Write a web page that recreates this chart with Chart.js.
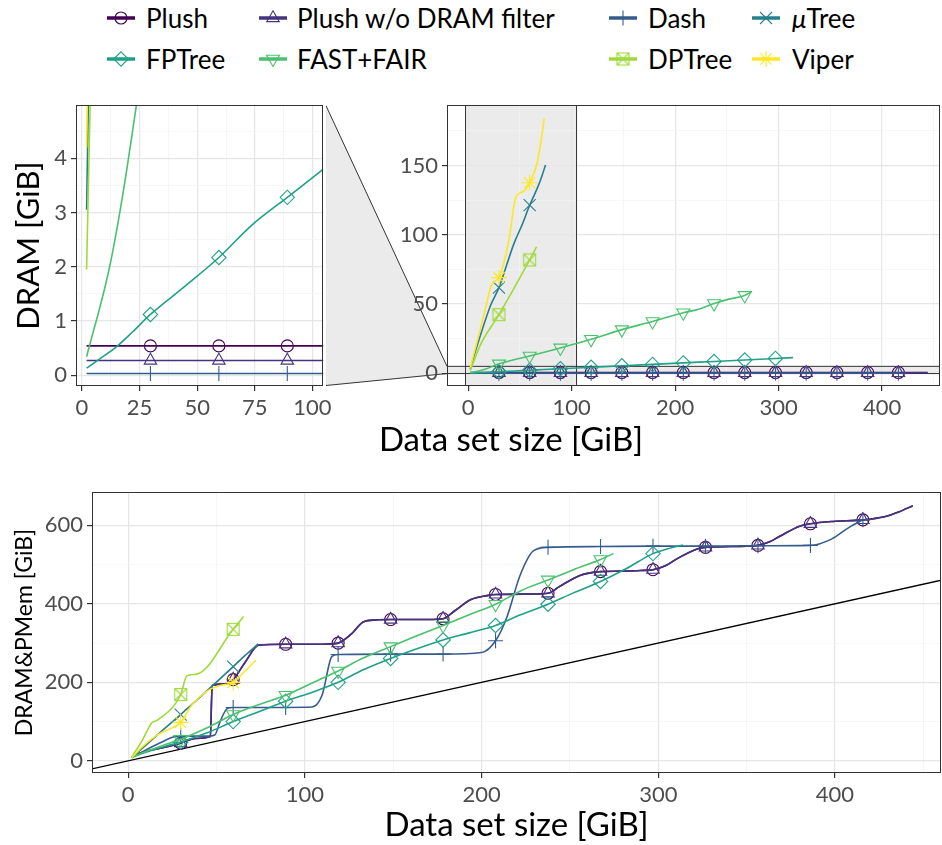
<!DOCTYPE html>
<html lang="en">
<head>
<meta charset="UTF-8">
<title>DRAM and PMem usage</title>
<script src="https://cdn.jsdelivr.net/npm/chart.js@4"></script>
<style>
    body { margin: 0; background: #fff; font-family: Lato, sans-serif; }
    #wrap { position: relative; width: 942px; height: 845px; overflow: hidden; }
    #wrap > canvas { position: absolute; }
    .leg { position: absolute; height: 30px; display: flex; align-items: center; font-size: 26px; color: #000; white-space: nowrap; }
    .leg canvas { position: absolute; }
    #xTitleTop { position: absolute; left: 261px; width: 500px; top: 418px; line-height: 40px; text-align: center; font-size: 33px; }
</style>
</head>
<body>
<div id="wrap">
    <div id="legend"></div>
    <canvas id="zoomChart" style="left:0;top:88px;width:336px;height:340px" width="336" height="340"></canvas>
    <canvas id="fullChart" style="left:326px;top:88px;width:616px;height:340px" width="616" height="340"></canvas>
    <div id="xTitleTop">Data set size [GiB]</div>
    <canvas id="totalChart" style="left:0;top:475px;width:942px;height:370px" width="942" height="370"></canvas>
</div>
<script>
// Series: names, colours, markers
const seriesNames = ['Plush', 'Plush w/o DRAM filter', 'Dash', 'μTree', 'FPTree', 'FAST+FAIR', 'DPTree', 'Viper'];
const seriesColors = ['#440154', '#46337E', '#365C8D', '#277F8E', '#1FA187', '#4AC16D', '#9FDA3A', '#FDE725'];

// data set sizes where the markers sit [GiB]
const markerX = [29.7, 59.4, 89.1, 118.8, 148.5, 178.2, 207.9, 237.6, 267.3, 297, 326.7, 356.4, 386.1, 415.8];

// ---- DRAM usage [GiB] (top panels) ----
const plushDramX = [2, 29.7, 59.4, 89.1, 118.8, 148.5, 178.2, 207.9, 237.6, 267.3, 297, 326.7, 356.4, 386.1, 415.8, 444];
const plushDram = [0.54, 0.54, 0.54, 0.54, 0.54, 0.54, 0.54, 0.54, 0.54, 0.54, 0.54, 0.54, 0.54, 0.54, 0.54, 0.54];
const plushNoFilterDram = [0.27, 0.27, 0.27, 0.27, 0.27, 0.27, 0.27, 0.27, 0.27, 0.27, 0.27, 0.27, 0.27, 0.27, 0.27, 0.27];
const dashDramX = [2, 29.7, 59.4, 89.1, 118.8, 148.5, 178.2, 207.9, 237.6, 267.3, 297, 326.7, 356.4, 386.1, 415.8];
const dashDram = [0.03, 0.03, 0.03, 0.03, 0.03, 0.03, 0.03, 0.03, 0.03, 0.03, 0.03, 0.03, 0.03, 0.03, 0.03];
const utreeDramX = [2, 7, 11.9, 21.6, 29.7, 44.2, 52, 59.4, 67, 71.5, 74.7];
const utreeDram = [3.05, 16, 27.7, 48.9, 61.8, 93.6, 107, 121.3, 134, 143, 150.4];
const fptreeDramX = [2, 7.7, 14.9, 22, 29.7, 45, 59.4, 73.5, 89.1, 104.7, 118.8, 148.5, 178.2, 207.9, 237.6, 267.3, 297, 314];
const fptreeDram = [0.13, 0.3, 0.52, 0.8, 1.12, 1.65, 2.17, 2.76, 3.28, 3.8, 4.3, 5.4, 6.4, 7.5, 8.5, 9.6, 10.7, 11.3];
const fastfairDramX = [2, 12, 17.7, 23.5, 29.7, 59.4, 89.1, 118.8, 148.5, 178.2, 207.9, 222, 237.6, 252, 267.3, 274.2];
const fastfairDram = [0.34, 2.0, 3.33, 4.95, 6.8, 12.5, 18.3, 24.5, 31.5, 37.4, 43.7, 46, 50.3, 53.5, 56.2, 59];
const dptreeDramX = [2, 11.9, 29.7, 59.4, 66];
const dptreeDram = [1.95, 20.7, 42.3, 81.8, 91.2];
const viperDramX = [2, 7, 11.9, 17.4, 21.6, 25, 29.7, 39.3, 45.7, 50, 55.4, 59.4, 66.7, 70, 73.5];
const viperDram = [4.2, 18.3, 32.4, 48.9, 62, 66, 69, 96, 126.5, 130, 132.4, 137.5, 152, 166, 184];

// ---- DRAM & PMem usage [GiB] (bottom panel) ----
const plushTotalX = [2, 8, 17, 29.7, 38, 46.5, 47.5, 55, 59.4, 66, 74, 89.1, 110, 118.8, 126, 133, 140, 148.5, 170, 178.2, 185, 194, 203, 207.9, 230, 237.6, 244, 256, 264, 267.3, 290, 297, 304, 311, 322, 326.7, 350, 356.4, 363, 369, 380, 386.1, 399, 415.8, 428, 436, 444];
const plushTotal = [10, 22, 31, 45, 57, 62, 192, 196, 207, 250, 295, 297, 297, 300, 322, 354, 359, 360, 360, 362, 383, 411, 421, 424, 425, 427, 444, 473, 481, 482, 485, 487, 497, 516, 540, 544, 547, 549, 558, 573, 598, 604, 610, 614, 622, 634, 650];
const plushNoFilterTotal = plushTotal; // both lines lie on top of each other
const dashTotalX = [2, 10, 20, 25, 29.7, 45, 49, 52, 56, 59.4, 89.1, 104, 109.7, 115.3, 118.8, 148.5, 178.2, 200, 207.9, 214.3, 221.8, 229.3, 237.6, 267.3, 297, 326.7, 356.4, 386.1, 398, 408, 415.8];
const dashTotal = [8, 28, 50, 60, 63, 63, 66, 100, 133, 136, 136, 137, 167, 266, 271, 272, 272, 276, 306, 366, 473, 535, 544, 546, 547, 547, 548, 549, 565, 595, 614];
const utreeTotalX = [2, 10, 20, 29.7, 45, 59.4, 66, 73.6];
const utreeTotal = [8, 40, 80, 118, 180, 240, 268, 298];
const fptreeTotalX = [2, 10, 20, 29.7, 45, 59.4, 75, 89.1, 105, 118.8, 133, 148.5, 163, 178.2, 193, 207.9, 222, 237.6, 252, 267.3, 282, 297, 305, 314];
const fptreeTotal = [9, 22, 36, 48, 72, 100, 127, 152, 176, 200, 232, 261, 285, 308, 326, 345, 372, 399, 428, 457, 490, 528, 540, 550];
const fastfairTotalX = [2, 10, 20, 29.7, 45, 59.4, 75, 89.1, 105, 118.8, 133, 148.5, 163, 178.2, 193, 207.9, 222, 237.6, 252, 267.3, 274.6];
const fastfairTotal = [9, 24, 40, 55, 85, 118, 145, 167, 200, 229, 262, 291, 318, 345, 372, 399, 433, 461, 487, 513, 528];
const dptreeTotalX = [2, 7.8, 13.4, 16.3, 29.7, 33.2, 38.9, 59.4, 65.3];
const dptreeTotal = [10, 51, 97, 103, 169, 217, 221, 335, 368];
const viperTotalX = [2, 7.8, 17.2, 24.7, 29.7, 36, 45.5, 52, 59.4, 65.3, 72.3];
const viperTotal = [8, 35, 68, 84, 98, 142, 180, 192, 200, 225, 257];

// y = x reference line
const refLineX = [-30, 480];

// zoomed region shown in the top-left panel
const zoomX = [-2.6, 104.7];
const zoomY = [-0.2, 4.98];

// boxed cross marker used for DPTree
function boxCross(color) {
    const c = document.createElement('canvas');
    c.width = 15; c.height = 15;
    const g = c.getContext('2d');
    g.strokeStyle = color;
    g.lineWidth = 1.1;
    g.strokeRect(1.5, 1.5, 12, 12);
    g.beginPath();
    g.moveTo(1.5, 1.5); g.lineTo(13.5, 13.5);
    g.moveTo(13.5, 1.5); g.lineTo(1.5, 13.5);
    g.stroke();
    return c;
}

const markers = [
    { style: 'circle', r: 6, rot: 0 },
    { style: 'triangle', r: 7.2, rot: 0 },
    { style: 'cross', r: 7.5, rot: 0 },
    { style: 'crossRot', r: 8.5, rot: 0 },
    { style: 'rectRot', r: 7.2, rot: 0 },
    { style: 'triangle', r: 7.5, rot: 180 },
    { style: boxCross(seriesColors[6]), r: 6, rot: 0 },
    { style: 'star', r: 8, rot: 0 },
];

function isMarker(ctx) {
    return ctx.raw && markerX.includes(ctx.raw.x);
}

function makeDataset(i, xs, ys) {
    const m = markers[i];
    return {
        label: seriesNames[i],
        data: xs.map((x, k) => ({ x: x, y: ys[k] })),
        borderColor: seriesColors[i],
        borderWidth: 1.6,
        pointStyle: m.style,
        rotation: m.rot,
        pointRadius: ctx => isMarker(ctx) ? m.r : 0,
        pointHoverRadius: 0,
        pointBorderColor: seriesColors[i],
        pointBackgroundColor: 'rgba(0,0,0,0)',
        pointBorderWidth: 1.1,
        cubicInterpolationMode: 'monotone',
        fill: false,
        order: 9 - i,
    };
}

function isMajor(v, major) {
    const q = v / major;
    return Math.abs(q - Math.round(q)) < 1e-6;
}

// ggplot-like axis with major and minor grid lines
function axis(min, max, step, major, size, title) {
    return {
        type: 'linear',
        min: min,
        max: max,
        ticks: {
            stepSize: step,
            includeBounds: false,
            autoSkip: false,
            maxRotation: 0,
            color: '#4D4D4D',
            font: { size: 22 },
            padding: 4,
            callback: v => isMajor(v, major) ? String(v) : '',
        },
        grid: {
            color: ctx => ctx.tick && isMajor(ctx.tick.value, major) ? '#E6E6E6' : '#F2F2F2',
            lineWidth: ctx => ctx.tick && isMajor(ctx.tick.value, major) ? 1.2 : 0.7,
            tickColor: ctx => ctx.tick && isMajor(ctx.tick.value, major) ? '#333333' : 'rgba(0,0,0,0)',
            tickLength: 5,
        },
        border: { display: false },
        title: title || { display: false },
        afterFit: size,
    };
}

const panelBorder = {
    id: 'panelBorder',
    afterDraw(chart) {
        const { ctx, chartArea: a } = chart;
        ctx.save();
        ctx.strokeStyle = '#333333';
        ctx.lineWidth = 1;
        ctx.strokeRect(Math.round(a.left) + 0.5, Math.round(a.top) + 0.5, Math.round(a.right - a.left) - 1, Math.round(a.bottom - a.top) - 1);
        ctx.restore();
    }
};

const baseOptions = {
    animation: false,
    responsive: false,
    events: [],
    plugins: { legend: { display: false }, tooltip: { enabled: false } },
};

Chart.defaults.font.family = 'Lato, sans-serif';

// ---- top-left: zoomed DRAM panel ----
const dramSeries = [
    [plushDramX, plushDram], [plushDramX, plushNoFilterDram], [dashDramX, dashDram], [utreeDramX, utreeDram],
    [fptreeDramX, fptreeDram], [fastfairDramX, fastfairDram], [dptreeDramX, dptreeDram], [viperDramX, viperDram],
];

const zoomChart = new Chart(document.getElementById('zoomChart'), {
    type: 'line',
    data: { datasets: dramSeries.map((s, i) => makeDataset(i, s[0], s[1])) },
    options: Object.assign({}, baseOptions, {
        layout: { autoPadding: false, padding: { top: 10, right: 10, left: 0, bottom: 0 } },
        scales: {
            x: axis(zoomX[0], zoomX[1], 12.5, 25, s => { s.height = 42; }),
            y: axis(zoomY[0], zoomY[1], 0.5, 1, s => { s.width = 76; },
                { display: true, text: 'DRAM [GiB]', color: '#000', font: { size: 31, lineHeight: 1.2 }, padding: { top: 10, bottom: 0 } }),
        },
    }),
    plugins: [panelBorder],
});

// ---- top-right: full DRAM panel with zoom band ----
const zoomBand = {
    id: 'zoomBand',
    beforeDraw(chart) {
        const { ctx, chartArea: a, scales: { x, y } } = chart;
        const za = zoomChart.chartArea;
        const x0 = x.getPixelForValue(zoomX[0]), x1 = x.getPixelForValue(zoomX[1]);
        const y0 = y.getPixelForValue(zoomY[0]), y1 = y.getPixelForValue(zoomY[1]);
        ctx.save();
        ctx.fillStyle = '#EBEBEB';
        ctx.beginPath();
        ctx.moveTo(0, za.top + 0.5);
        ctx.lineTo(a.left, y1);
        ctx.lineTo(a.left, y0);
        ctx.lineTo(0, za.bottom - 0.5);
        ctx.closePath();
        ctx.fill();
        ctx.fillRect(x0, a.top, x1 - x0, a.bottom - a.top);
        ctx.fillRect(a.left, y1, a.right - a.left, y0 - y1);
        ctx.strokeStyle = '#333333';
        ctx.lineWidth = 1;
        ctx.beginPath();
        ctx.moveTo(0, za.top + 0.5); ctx.lineTo(a.left, y1);
        ctx.moveTo(0, za.bottom - 0.5); ctx.lineTo(a.left, y0);
        ctx.stroke();
        ctx.restore();
    },
    beforeDatasetsDraw(chart) {
        const { ctx, chartArea: a, scales: { x, y } } = chart;
        const x0 = x.getPixelForValue(zoomX[0]), x1 = x.getPixelForValue(zoomX[1]);
        const y0 = y.getPixelForValue(zoomY[0]), y1 = y.getPixelForValue(zoomY[1]);
        ctx.save();
        ctx.strokeStyle = '#333333';
        ctx.lineWidth = 1;
        ctx.beginPath();
        ctx.moveTo(x0, a.top); ctx.lineTo(x0, a.bottom);
        ctx.moveTo(x1, a.top); ctx.lineTo(x1, a.bottom);
        ctx.moveTo(a.left, y0); ctx.lineTo(a.right, y0);
        ctx.moveTo(a.left, y1); ctx.lineTo(a.right, y1);
        ctx.stroke();
        ctx.restore();
    }
};

new Chart(document.getElementById('fullChart'), {
    type: 'line',
    data: { datasets: dramSeries.map((s, i) => makeDataset(i, s[0], s[1])) },
    options: Object.assign({}, baseOptions, {
        layout: { autoPadding: false, padding: { top: 9, right: 2, left: 0, bottom: 0 } },
        scales: {
            x: axis(-20.5, 456, 50, 100, s => { s.height = 42; }),
            y: axis(-9.2, 193.5, 25, 50, s => { s.width = 121; }),
        },
    }),
    plugins: [zoomBand, panelBorder],
});

// ---- bottom: DRAM & PMem panel ----
const totalSeries = [
    [plushTotalX, plushTotal], [plushTotalX, plushNoFilterTotal], [dashTotalX, dashTotal], [utreeTotalX, utreeTotal],
    [fptreeTotalX, fptreeTotal], [fastfairTotalX, fastfairTotal], [dptreeTotalX, dptreeTotal], [viperTotalX, viperTotal],
];
const totalDatasets = totalSeries.map((s, i) => makeDataset(i, s[0], s[1]));
totalDatasets.push({
    label: 'y = x',
    data: refLineX.map(x => ({ x: x, y: x })),
    borderColor: '#000000',
    borderWidth: 1.4,
    pointRadius: 0,
    fill: false,
    order: 20,
});

new Chart(document.getElementById('totalChart'), {
    type: 'line',
    data: { datasets: totalDatasets },
    options: Object.assign({}, baseOptions, {
        layout: { autoPadding: false, padding: { top: 10, right: 1, left: 0, bottom: 0 } },
        scales: {
            x: axis(-20.5, 460, 50, 100, s => { s.height = 72; },
                { display: true, text: 'Data set size [GiB]', color: '#000', font: { size: 33, lineHeight: 1.2 }, padding: { top: 0, bottom: 0 } }),
            y: axis(-31, 684.5, 100, 200, s => { s.width = 92; },
                { display: true, text: 'DRAM&PMem [GiB]', color: '#000', font: { size: 23, lineHeight: 1.2 }, padding: { top: 11, bottom: 0 } }),
        },
    }),
    plugins: [panelBorder],
});

// ---- legend (two rows, four columns) ----
const legendIcon = [120.5, 273, 623, 766];
const legendText = [146, 297, 648, 792];
const legendRow = [18, 59];
const legendSlots = [[0, 0], [0, 1], [0, 2], [0, 3], [1, 0], [1, 1], [1, 2], [1, 3]];

const legend = document.getElementById('legend');
seriesNames.forEach((name, i) => {
    const [row, col] = legendSlots[i];
    const item = document.createElement('div');
    item.className = 'leg';
    item.style.left = legendText[col] + 'px';
    item.style.top = (legendRow[row] - 15) + 'px';
    const label = document.createElement('span');
    if (name.startsWith('μ')) {
        label.innerHTML = '<i>μ</i>' + name.slice(1);
    } else {
        label.textContent = name;
    }
    item.appendChild(label);

    const icon = document.createElement('canvas');
    icon.width = 34; icon.height = 30;
    icon.style.left = (legendIcon[col] - 17 - legendText[col]) + 'px';
    icon.style.top = '0px';
    const g = icon.getContext('2d');
    g.strokeStyle = seriesColors[i];
    g.lineWidth = 3.5;
    g.beginPath(); g.moveTo(3, 15); g.lineTo(31, 15); g.stroke();
    g.lineWidth = 1.1;
    g.fillStyle = 'rgba(0,0,0,0)';
    const m = markers[i];
    Chart.helpers.drawPoint(g, { pointStyle: m.style, rotation: m.rot, radius: m.r, borderWidth: 1.1 }, 17, 15);
    item.appendChild(icon);
    legend.appendChild(item);
});
</script>
</body>
</html>
